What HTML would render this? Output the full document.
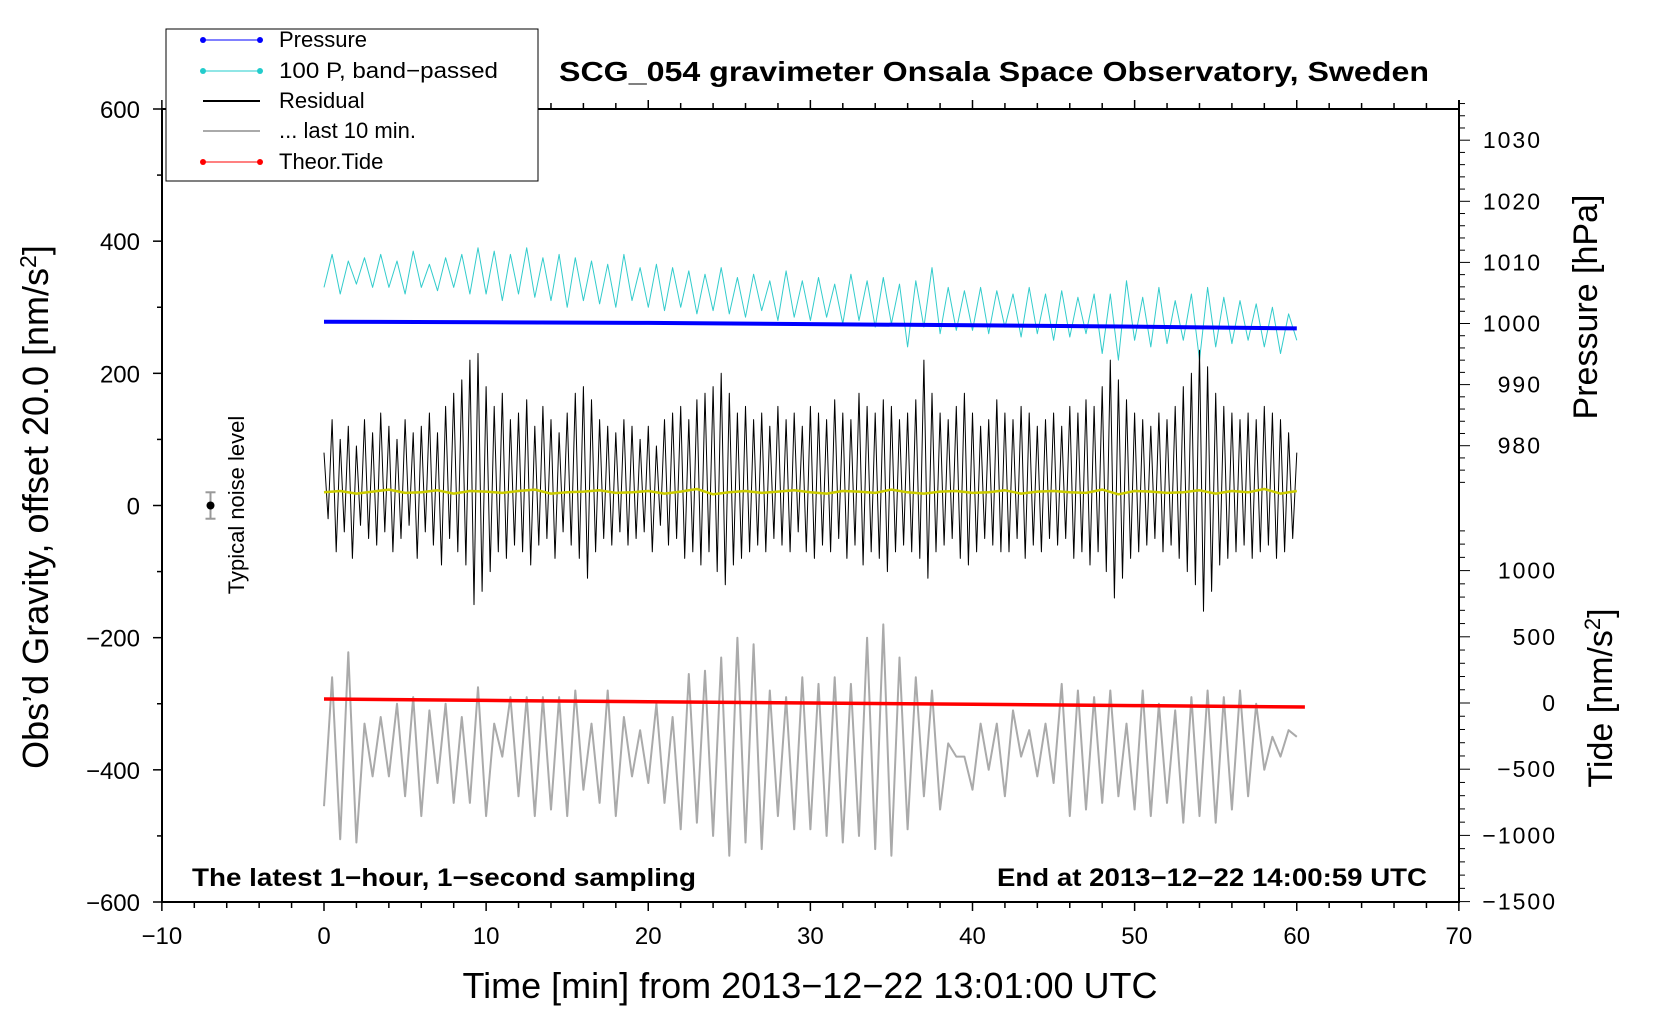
<!DOCTYPE html>
<html><head><meta charset="utf-8">
<style>
html,body{margin:0;padding:0;background:#fff;}
svg{display:block;font-family:"Liberation Sans",Arial,sans-serif;}
</style></head>
<body>
<svg id="chart" width="1660" height="1020" viewBox="0 0 1660 1020" xmlns="http://www.w3.org/2000/svg">
  <rect x="0" y="0" width="1660" height="1020" fill="#fff"/>
  <g id="series"></g>
  <g id="axes"></g>
  <rect x="162" y="109" width="1297" height="793" fill="none" stroke="#000" stroke-width="2"/>
  <text x="559" y="81" font-size="28" font-weight="bold" textLength="870" lengthAdjust="spacingAndGlyphs">SCG_054 gravimeter Onsala Space Observatory, Sweden</text>
  <text x="192" y="886" font-size="25" font-weight="bold" textLength="504" lengthAdjust="spacingAndGlyphs">The latest 1−hour, 1−second sampling</text>
  <text x="997" y="886" font-size="25" font-weight="bold" textLength="430" lengthAdjust="spacingAndGlyphs">End at 2013−12−22 14:00:59 UTC</text>
  <text x="810" y="998" font-size="36" text-anchor="middle">Time [min] from 2013−12−22 13:01:00 UTC</text>
  <text transform="translate(48,507) rotate(-90)" font-size="36" text-anchor="middle">Obs’d Gravity, offset 20.0 [nm/s<tspan dy="-12" font-size="23">2</tspan><tspan dy="12">]</tspan></text>
  <text transform="translate(1597,307) rotate(-90)" font-size="34" text-anchor="middle">Pressure [hPa]</text>
  <text transform="translate(1612,698) rotate(-90)" font-size="34" text-anchor="middle">Tide [nm/s<tspan dy="-12" font-size="22">2</tspan><tspan dy="12">]</tspan></text>
  <text transform="translate(244,505) rotate(-90)" font-size="22" text-anchor="middle">Typical noise level</text>
  <g>
    <rect x="166" y="29" width="372" height="152" fill="#fff" stroke="#000" stroke-width="1"/>
    <g>
      <line x1="203" y1="40" x2="260" y2="40" stroke="#00f" stroke-width="1"/><circle cx="203" cy="40" r="3" fill="#00f"/><circle cx="260" cy="40" r="3" fill="#00f"/>
      <text x="279" y="47" font-size="22">Pressure</text></g>
    <g>
      <line x1="203" y1="71" x2="260" y2="71" stroke="#2cc" stroke-width="1"/><circle cx="203" cy="71" r="3" fill="#2cc"/><circle cx="260" cy="71" r="3" fill="#2cc"/>
      <text x="279" y="78" font-size="22" textLength="219" lengthAdjust="spacingAndGlyphs">100 P, band−passed</text></g>
    <g>
      <line x1="203" y1="101" x2="260" y2="101" stroke="#000" stroke-width="2"/>
      <text x="279" y="108" font-size="22">Residual</text></g>
    <g>
      <line x1="203" y1="131" x2="260" y2="131" stroke="#aaa" stroke-width="2"/>
      <text x="279" y="138" font-size="22">... last 10 min.</text></g>
    <g>
      <line x1="203" y1="162" x2="260" y2="162" stroke="#f00" stroke-width="1"/><circle cx="203" cy="162" r="3" fill="#f00"/><circle cx="260" cy="162" r="3" fill="#f00"/>
      <text x="279" y="169" font-size="22">Theor.Tide</text></g>
  </g>
</svg>
<script>
const xTicks=[-10,0,10,20,30,40,50,60,70];
const yTicks=[600,400,200,0,-200,-400,-600];
const pTicks=[1030,1020,1010,1000,990,980];
const tTicks=[1000,500,0,-500,-1000,-1500];
const residual=[60,-40,110,-90,80,-60,100,-100,70,-50,110,-70,
90,-80,120,-60,100,-90,80,-70,110,-50,90,-100,
100,-60,120,-80,90,-110,130,-70,150,-90,170,-110,
200,-170,210,-150,160,-120,130,-90,150,-100,110,-80,
120,-90,140,-110,100,-80,130,-70,110,-100,90,-60,
120,-80,150,-100,160,-130,140,-90,110,-70,100,-80,
90,-60,110,-80,100,-70,80,-60,100,-90,70,-50,
110,-80,120,-70,130,-100,110,-90,140,-110,150,-90,
160,-120,180,-140,150,-110,120,-100,130,-90,110,-80,
120,-90,100,-70,130,-80,110,-90,120,-60,100,-90,
130,-100,120,-80,110,-90,140,-70,120,-100,110,-80,
150,-110,130,-90,120,-100,140,-120,130,-90,110,-80,
120,-90,140,-100,200,-130,150,-90,120,-80,110,-70,
130,-100,150,-110,120,-90,100,-70,110,-80,140,-90,
120,-90,110,-70,130,-100,120,-80,100,-90,110,-70,
120,-80,100,-70,130,-100,120,-90,140,-110,130,-90,
160,-120,200,-160,170,-130,140,-100,120,-90,110,-80,
100,-70,120,-90,110,-80,130,-100,160,-120,180,-140,
215,-180,190,-150,150,-110,130,-100,120,-90,110,-80,
120,-100,110,-90,130,-80,120,-100,110,-90,90,-70,60];
const smoothResidual=[20,22,18,21,24,19,20,23,18,22,21,19,22,24,18,20,21,23,19,20,22,18,21,25,17,20,22,19,21,23,20,18,22,21,19,24,20,18,21,22,19,20,23,18,21,22,20,19,24,17,22,21,19,20,23,18,22,20,25,18,22];
const bandPassed=[330,380,320,370,335,375,330,380,330,370,320,385,330,365,325,375,330,380,320,390,
320,385,310,380,320,390,315,375,310,380,300,375,310,370,305,365,300,380,310,360,
300,365,295,360,300,355,290,350,295,360,290,345,285,350,295,340,280,355,285,340,
280,345,285,335,275,350,280,340,270,345,275,335,240,340,270,360,260,330,265,325,
265,330,260,325,270,320,255,330,260,320,250,325,255,315,260,320,230,320,220,340,
250,315,240,330,245,310,250,320,220,330,240,315,245,310,250,305,240,300,230,290,250];
const last10=[-455,-260,-505,-222,-510,-330,-410,-320,-410,-300,-440,-290,-470,-310,-420,-300,-450,-320,-450,-275,
-470,-330,-380,-290,-440,-290,-470,-290,-460,-290,-470,-280,-430,-330,-450,-280,-470,-320,-410,-340,
-420,-300,-450,-320,-490,-255,-480,-250,-500,-230,-530,-200,-510,-210,-520,-280,-470,-290,-490,-260,
-490,-270,-500,-260,-510,-270,-500,-200,-520,-180,-530,-230,-490,-260,-440,-280,-460,-360,-380,-380,
-430,-330,-400,-330,-440,-310,-380,-340,-410,-330,-420,-270,-470,-280,-460,-290,-450,-280,-440,-330,
-460,-280,-470,-300,-450,-310,-480,-290,-470,-280,-480,-290,-460,-280,-440,-300,-400,-350,-380,-340,-350];
const pressureTimes=[0,10,20,30,40,50,60];
const pressureValues=[1000.3,1000.2,1000.1,999.9,999.7,999.5,999.2];
const tideTimes=[0,10,20,30,40,50,60.5];
const tideValues=[30,20,10,0,-10,-20,-30];
const noiseX=-7, noiseY=0, noiseErr=20;

const X=t=>324+t*16.2125;
const Y=v=>505.5-v*0.66083;
const P=p=>323.5-(p-1000)*6.11;
const T=v=>703-v*0.1324;
const NS="http://www.w3.org/2000/svg";
const S=document.getElementById('series'), A=document.getElementById('axes');
function mk(tag,at,par){const e=document.createElementNS(NS,tag);for(const k in at)e.setAttribute(k,at[k]);par.appendChild(e);return e;}
function path(xs,ys,stroke,w,name){
  let d='';for(let i=0;i<xs.length;i++)d+=(i?'L':'M')+xs[i].toFixed(1)+','+ys[i].toFixed(1);
  const e=mk('path',{d:d,fill:'none',stroke:stroke,'stroke-width':w,'stroke-linejoin':'round'},S);
  
  
  return e;
}
path(bandPassed.map((v,i)=>X(i*0.5)),bandPassed.map(v=>Y(v)),'#33cccc',1,'band-passed-pressure-line');
path(pressureTimes.map(X),pressureValues.map(P),'#0000ff',4,'pressure-line');
path(residual.map((v,i)=>X(i*0.25)),residual.map(v=>Y(v+20)),'#000',1,'residual-line');
path(smoothResidual.map((v,i)=>X(i)),smoothResidual.map(Y),'#cccc00',2.5,'smoothed-residual-line');
path(last10.map((v,i)=>X(i*0.5)),last10.map(Y),'#aaaaaa',2,'last-10-min-line');
path(tideTimes.map(X),tideValues.map(T),'#ff0000',3.5,'theor-tide-line');
const nb=mk('line',{x1:X(noiseX),x2:X(noiseX),y1:Y(noiseY+noiseErr),y2:Y(noiseY-noiseErr),stroke:'#999','stroke-width':2},S);


[noiseY+noiseErr,noiseY-noiseErr].forEach(v=>{const c=mk('line',{x1:X(noiseX)-5,x2:X(noiseX)+5,y1:Y(v),y2:Y(v),stroke:'#999','stroke-width':2},S);

});
const nd=mk('circle',{cx:X(noiseX),cy:Y(noiseY),r:4,fill:'#000'},S);


for(let t=-10;t<=70;t+=2){const maj=t%10===0;
  mk('line',{x1:X(t),x2:X(t),y1:902,y2:902+(maj?9:6),stroke:'#000','stroke-width':1.5},A);
  mk('line',{x1:X(t),x2:X(t),y1:109,y2:109-(maj?9:6),stroke:'#000','stroke-width':1.5},A);}
xTicks.forEach(t=>{const e=mk('text',{x:X(t),y:944,'font-size':24,'text-anchor':'middle'},A);e.textContent=String(t).replace('-','−');

});
for(let v=-600;v<=600;v+=100){const maj=v%200===0;
  mk('line',{x1:162,x2:162-(maj?9:5),y1:Y(v),y2:Y(v),stroke:'#000','stroke-width':1.5},A);}
yTicks.forEach(v=>{const e=mk('text',{x:140,y:Y(v)+9,'font-size':24,'text-anchor':'end'},A);e.textContent=String(v).replace('-','−');

});
for(let p=974;p<=1036;p+=2){const maj=p%10===0;
  mk('line',{x1:1459,x2:1459+(maj?11:6),y1:P(p),y2:P(p),stroke:'#000','stroke-width':1},A);}
pTicks.forEach(p=>{const e=mk('text',{x:1542,y:P(p)+8,'font-size':23,'text-anchor':'end','letter-spacing':'2'},A);e.textContent=String(p);

});
for(let v=-1500;v<=1300;v+=100){const maj=v%500===0;
  mk('line',{x1:1459,x2:1459+(maj?11:6),y1:T(v),y2:T(v),stroke:'#000','stroke-width':1},A);}
tTicks.forEach(v=>{const e=mk('text',{x:1557,y:T(v)+8,'font-size':23,'text-anchor':'end','letter-spacing':'2'},A);e.textContent=String(v).replace('-','−');

});
mk('line',{x1:1459,x2:1459,y1:100,y2:902,stroke:'#000','stroke-width':2},A);
</script>
</body></html>
